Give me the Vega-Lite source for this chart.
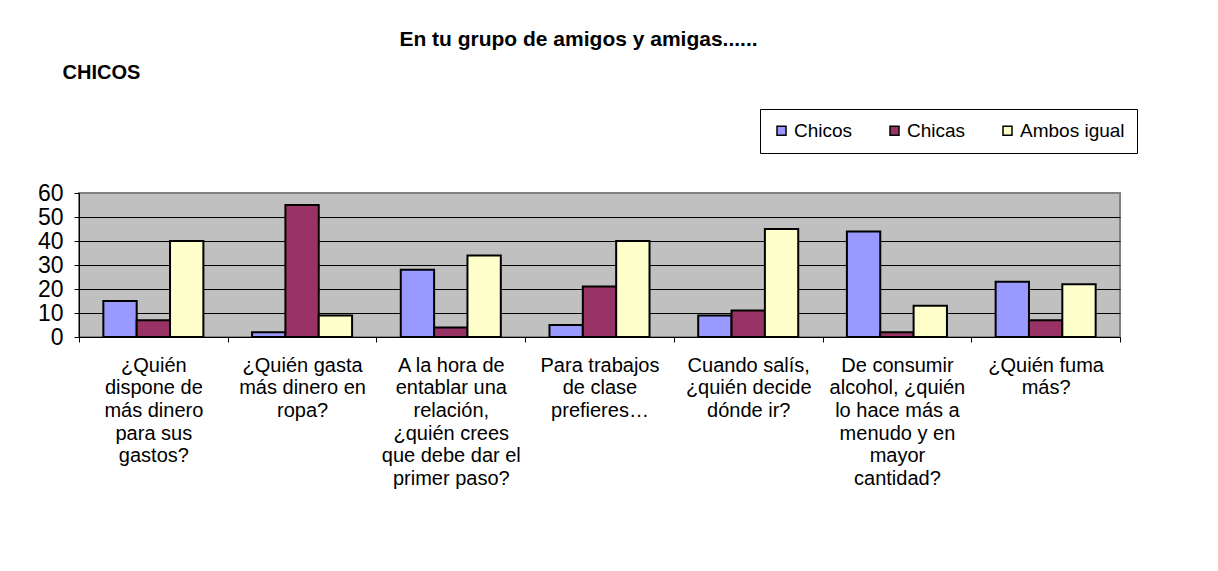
{
  "$schema": "https://vega.github.io/schema/vega-lite/v6.json",
  "width": 1041,
  "height": 144,
  "autosize": {"type": "none"},
  "padding": {"left": 79, "top": 193, "right": 98, "bottom": 234},
  "background": "white",
  "title": {
    "text": "En tu grupo de amigos y amigas......",
    "font": "Liberation Sans",
    "fontSize": 21,
    "fontWeight": "bold",
    "color": "black",
    "anchor": "middle",
    "dx": -21,
    "dy": -12,
    "offset": 0
  },
  "config": {
    "font": "Liberation Sans",
    "view": {"fill": "#C0C0C0", "stroke": "#808080", "strokeWidth": 2},
    "axis": {"labelFont": "Liberation Sans", "labelColor": "black", "domainColor": "black", "tickColor": "black"}
  },
  "data": {
    "values": [
      {"pregunta": "¿Quién\ndispone de\nmás dinero\npara sus\ngastos?", "respuesta": "Chicos", "valor": 15},
      {"pregunta": "¿Quién\ndispone de\nmás dinero\npara sus\ngastos?", "respuesta": "Chicas", "valor": 7},
      {"pregunta": "¿Quién\ndispone de\nmás dinero\npara sus\ngastos?", "respuesta": "Ambos igual", "valor": 40},
      {"pregunta": "¿Quién gasta\nmás dinero en\nropa?", "respuesta": "Chicos", "valor": 2},
      {"pregunta": "¿Quién gasta\nmás dinero en\nropa?", "respuesta": "Chicas", "valor": 55},
      {"pregunta": "¿Quién gasta\nmás dinero en\nropa?", "respuesta": "Ambos igual", "valor": 9},
      {"pregunta": "A la hora de\nentablar una\nrelación,\n¿quién crees\nque debe dar el\nprimer paso?", "respuesta": "Chicos", "valor": 28},
      {"pregunta": "A la hora de\nentablar una\nrelación,\n¿quién crees\nque debe dar el\nprimer paso?", "respuesta": "Chicas", "valor": 4},
      {"pregunta": "A la hora de\nentablar una\nrelación,\n¿quién crees\nque debe dar el\nprimer paso?", "respuesta": "Ambos igual", "valor": 34},
      {"pregunta": "Para trabajos\nde clase\nprefieres…", "respuesta": "Chicos", "valor": 5},
      {"pregunta": "Para trabajos\nde clase\nprefieres…", "respuesta": "Chicas", "valor": 21},
      {"pregunta": "Para trabajos\nde clase\nprefieres…", "respuesta": "Ambos igual", "valor": 40},
      {"pregunta": "Cuando salís,\n¿quién decide\ndónde ir?", "respuesta": "Chicos", "valor": 9},
      {"pregunta": "Cuando salís,\n¿quién decide\ndónde ir?", "respuesta": "Chicas", "valor": 11},
      {"pregunta": "Cuando salís,\n¿quién decide\ndónde ir?", "respuesta": "Ambos igual", "valor": 45},
      {"pregunta": "De consumir\nalcohol, ¿quién\nlo hace más a\nmenudo y en\nmayor\ncantidad?", "respuesta": "Chicos", "valor": 44},
      {"pregunta": "De consumir\nalcohol, ¿quién\nlo hace más a\nmenudo y en\nmayor\ncantidad?", "respuesta": "Chicas", "valor": 2},
      {"pregunta": "De consumir\nalcohol, ¿quién\nlo hace más a\nmenudo y en\nmayor\ncantidad?", "respuesta": "Ambos igual", "valor": 13},
      {"pregunta": "¿Quién fuma\nmás?", "respuesta": "Chicos", "valor": 23},
      {"pregunta": "¿Quién fuma\nmás?", "respuesta": "Chicas", "valor": 7},
      {"pregunta": "¿Quién fuma\nmás?", "respuesta": "Ambos igual", "valor": 22}
    ]
  },
  "mark": {"type": "bar", "stroke": "black", "strokeWidth": 2},
  "encoding": {
    "x": {
      "field": "pregunta",
      "type": "nominal",
      "sort": null,
      "scale": {"paddingInner": 0, "paddingOuter": 0},
      "axis": {
        "title": null,
        "labelAngle": 0,
        "labelExpr": "split(datum.label, '\\n')",
        "labelFontSize": 20,
        "labelLineHeight": 22.7,
        "labelBaseline": "top",
        "labelPadding": 13,
        "labelLimit": 0,
        "labelOverlap": false,
        "tickBand": "extent",
        "tickSize": 5,
        "domainWidth": 1
      }
    },
    "xOffset": {
      "field": "respuesta",
      "type": "nominal",
      "sort": ["Chicos", "Chicas", "Ambos igual"],
      "scale": {"paddingInner": 0, "paddingOuter": 0.73}
    },
    "y": {
      "field": "valor",
      "type": "quantitative",
      "scale": {"domain": [0, 60], "nice": false},
      "axis": {
        "values": [0, 10, 20, 30, 40, 50, 60],
        "labelFontSize": 23,
        "labelPadding": 11,
        "tickSize": 5,
        "grid": true,
        "gridColor": {"condition": {"test": "datum.value == 60", "value": "#808080"}, "value": "black"},
        "gridWidth": 1,
        "gridOpacity": 1,
        "title": "CHICOS",
        "titleAngle": 0,
        "titleAlign": "left",
        "titleBaseline": "middle",
        "titleX": -17,
        "titleY": -121,
        "titleFont": "Liberation Sans",
        "titleFontSize": 20,
        "titleFontWeight": "bold",
        "titleColor": "black"
      }
    },
    "color": {
      "field": "respuesta",
      "type": "nominal",
      "sort": ["Chicos", "Chicas", "Ambos igual"],
      "scale": {"domain": ["Chicos", "Chicas", "Ambos igual"], "range": ["#9999FF", "#993366", "#FFFFCC"]},
      "legend": {
        "title": null,
        "orient": "none",
        "direction": "horizontal",
        "legendX": 681,
        "legendY": -84,
        "padding": 12,
        "strokeColor": "black",
        "fillColor": "white",
        "symbolType": "square",
        "symbolSize": 81,
        "symbolStrokeColor": "black",
        "symbolStrokeWidth": 1.5,
        "symbolOpacity": 1,
        "labelFont": "Liberation Sans",
        "labelFontSize": 19,
        "labelColor": "black",
        "labelOffset": 3,
        "columnPadding": 32
      }
    }
  }
}
